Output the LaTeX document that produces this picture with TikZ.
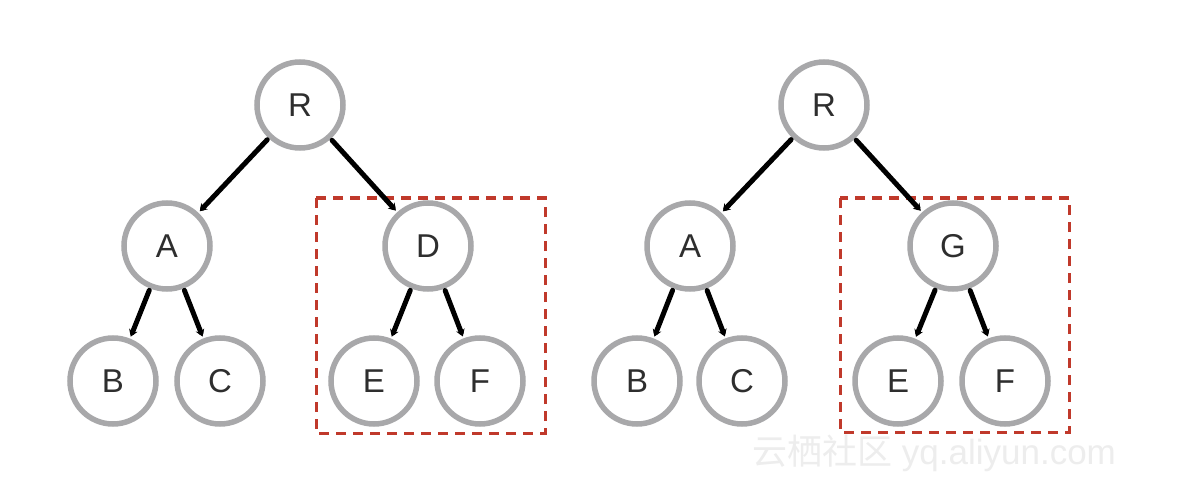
\documentclass[tikz,border=0pt]{standalone}
\usepackage{fontspec}
\setmainfont{Liberation Sans}
\newfontfamily\cjkfont{Noto Sans CJK SC}
\usetikzlibrary{arrows.meta}
\definecolor{ringgray}{HTML}{A8A8AA}
\definecolor{boxred}{HTML}{C0392B}
\definecolor{labelgray}{HTML}{2E2E2E}
\tikzset{
  treenode/.style={circle, draw=ringgray, line width=5.5pt, minimum size=86pt,
    inner sep=0pt, fill=white, text=labelgray, font=\fontsize{33}{33}\selectfont},
  link/.style={line width=5pt, black, line cap=round,
    -{Stealth[length=7pt,width=9pt]}, shorten >=2pt, shorten <=2pt},
  subtree/.style={draw=boxred, line width=3pt, dash pattern=on 10pt off 7pt}
}
\begin{document}
\begin{tikzpicture}[x=1pt,y=-1pt]
  \useasboundingbox[fill=white] (0,0) rectangle (1192,500);

  % highlighted subtrees
  \draw[subtree] (316,198) rectangle (545,433);
  \draw[subtree] (840,198) rectangle (1069,432);

  % left tree
  \node[treenode] (R1) at (300,105) {R};
  \node[treenode] (A1) at (167,246) {A};
  \node[treenode] (D1) at (428,246) {D};
  \node[treenode] (B1) at (113,381) {B};
  \node[treenode] (C1) at (220,381) {C};
  \node[treenode] (E1) at (374,381) {E};
  \node[treenode] (F1) at (480,381) {F};

  % right tree
  \node[treenode] (R2) at (824,105) {R};
  \node[treenode] (A2) at (690,246) {A};
  \node[treenode] (G2) at (953,246) {G};
  \node[treenode] (B2) at (637,381) {B};
  \node[treenode] (C2) at (742,381) {C};
  \node[treenode] (E2) at (898,381) {E};
  \node[treenode] (F2) at (1005,381) {F};

  % edges
  \foreach \p/\c in {R1/A1, R1/D1, A1/B1, A1/C1, D1/E1, D1/F1,
                     R2/A2, R2/G2, A2/B2, A2/C2, G2/E2, G2/F2}
    \draw[link] (\p) -- (\c);

  % watermark
  \node[anchor=west, text=gray!14, inner sep=0pt] (wm) at (752,453)
    {\fontsize{35}{35}\selectfont{\cjkfont 云栖社区} yq.aliyun.com};
\end{tikzpicture}
\end{document}
